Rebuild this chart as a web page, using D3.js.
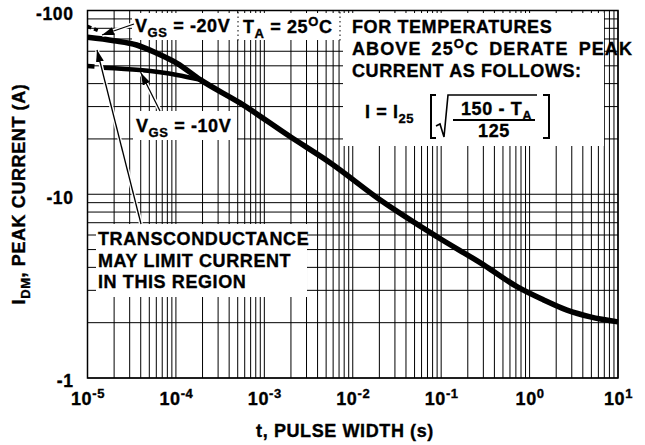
<!DOCTYPE html>
<html>
<head>
<meta charset="utf-8">
<script src="https://cdn.jsdelivr.net/npm/d3@7"></script>
<style>
  body { margin: 0; background: #fff; }
  svg text { font-family: "Liberation Sans", Arial, sans-serif; font-weight: bold; fill: #000;
             stroke: #000; stroke-width: 0.35px; letter-spacing: 0.6px; }
</style>
</head>
<body>
<div id="chart"></div>
<script>
// ---- data ----
const xTickValues = [1e-5, 1e-4, 1e-3, 1e-2, 1e-1, 1e0, 1e1];
const xTickExponents = ["-5", "-4", "-3", "-2", "-1", "0", "1"];
const yTickValues = [1, 10, 100];
const yTickLabels = ["-1", "-10", "-100"];

// VGS = -20V curve (magnitude of peak current, A)
const t20 = [1e-5, 2e-5, 3.6e-5, 6.1e-5, 1.03e-4, 1.9e-4, 5.3e-4, 1.95e-3, 5.6e-3, 2.05e-2, 8.97e-2, 0.302, 0.72, 1.44, 2.65, 4.86, 10];
const i20 = [71.5, 68.5, 64.9, 58.5, 51.6, 41.9, 31.4, 20.6, 14.8, 9.3, 5.87, 4.13, 3.14, 2.66, 2.34, 2.15, 2.02];
// VGS = -10V curve, until it joins the -20V one
const t10 = [1.5e-5, 3.9e-5, 1.03e-4, 1.9e-4];
const i10 = [48.8, 47.4, 44.6, 41.9];
// short dashed stubs at the left edge (transconductance region)
const t20Dash = [1e-5, 1.4e-5];
const i20Dash = [82, 77];
const t10Dash = [1e-5, 1.2e-5];
const i10Dash = [49.9, 49.6];

const W = 645, H = 445;
const margin = { top: 10.5, right: 27, bottom: 67, left: 87.5 };
const width = W - margin.left - margin.right;
const height = H - margin.top - margin.bottom;

const svg = d3.select("#chart").append("svg")
    .attr("width", W)
    .attr("height", H);

const g = svg.append("g")
    .attr("transform", `translate(${margin.left},${margin.top})`);

const x = d3.scaleLog().domain([1e-5, 10]).range([0, width]);
const y = d3.scaleLog().domain([1, 100]).range([height, 0]);

// grid
g.append("g").selectAll("line")
  .data(x.ticks())
  .join("line")
    .attr("x1", d => x(d)).attr("x2", d => x(d))
    .attr("y1", 0).attr("y2", height)
    .attr("stroke", "#000").attr("stroke-width", 1);

g.append("g").selectAll("line")
  .data(y.ticks())
  .join("line")
    .attr("y1", d => y(d)).attr("y2", d => y(d))
    .attr("x1", 0).attr("x2", width)
    .attr("stroke", "#000").attr("stroke-width", 1);

// axes
const xAxis = g.append("g")
    .attr("transform", `translate(0,${height})`)
    .call(d3.axisBottom(x).tickValues(xTickValues).tickSize(0).tickPadding(14).tickFormat(""));
xAxis.select(".domain").remove();
xAxis.selectAll(".tick text").each(function(d, i) {
  const t = d3.select(this)
      .attr("font-size", 18).attr("font-family", null).attr("fill", null);
  t.append("tspan").text("10");
  t.append("tspan").attr("dy", -7).attr("font-size", 13).text(xTickExponents[i]);
});

const yAxis = g.append("g")
    .call(d3.axisLeft(y).tickValues(yTickValues).tickSize(0).tickPadding(14)
          .tickFormat((d, i) => yTickLabels[i]));
yAxis.select(".domain").remove();
yAxis.selectAll(".tick text").attr("font-size", 17.5).attr("font-family", null)
    .attr("fill", null).attr("dy", "0.5em");

// curves
const line = d3.line()
    .x(d => x(d[0]))
    .y(d => y(d[1]))
    .curve(d3.curveMonotoneX);

g.append("path")
  .datum(d3.zip(t20, i20))
  .attr("fill", "none").attr("stroke", "#000").attr("stroke-width", 5.5)
  .attr("d", line);

g.append("path")
  .datum(d3.zip(t10, i10))
  .attr("fill", "none").attr("stroke", "#000").attr("stroke-width", 4.5)
  .attr("d", line);

g.append("path")
  .datum(d3.zip(t20Dash, i20Dash))
  .attr("fill", "none").attr("stroke", "#000").attr("stroke-width", 3.5)
  .attr("stroke-dasharray", "4,3")
  .attr("d", line);

g.append("path")
  .datum(d3.zip(t10Dash, i10Dash))
  .attr("fill", "none").attr("stroke", "#000").attr("stroke-width", 4.5)
  .attr("d", line);

// white annotation boxes
const ann = svg.append("g");
function box(x0, y0, x1, y1) {
  ann.append("rect")
    .attr("x", x0).attr("y", y0)
    .attr("width", x1 - x0).attr("height", y1 - y0)
    .attr("fill", "#fff");
}
box(132, 13, 602, 40);
box(343, 13, 604, 146);
box(133, 111, 237, 140);
box(96, 224, 307, 297);

// dotted separators around the TA box
[238, 340].forEach(px => {
  ann.append("line")
    .attr("x1", px).attr("x2", px).attr("y1", 12).attr("y2", 41)
    .attr("stroke", "#000").attr("stroke-width", 1).attr("stroke-dasharray", "1.5,3");
});

// arrows
const defs = svg.append("defs");
defs.append("marker")
    .attr("id", "head")
    .attr("viewBox", "0 0 12 8")
    .attr("refX", 12).attr("refY", 4)
    .attr("markerWidth", 12).attr("markerHeight", 8)
    .attr("markerUnits", "userSpaceOnUse")
    .attr("orient", "auto")
  .append("path")
    .attr("d", "M0,0 L12,4 L0,8 Z")
    .attr("fill", "#000");

function arrow(x0, y0, x1, y1) {
  ann.append("line")
    .attr("x1", x0).attr("y1", y0).attr("x2", x1).attr("y2", y1)
    .attr("stroke", "#fff").attr("stroke-width", 4);
  ann.append("line")
    .attr("x1", x0).attr("y1", y0).attr("x2", x1).attr("y2", y1)
    .attr("stroke", "#000").attr("stroke-width", 1.3)
    .attr("marker-end", "url(#head)");
}
arrow(134, 24, 102, 35);
arrow(160, 111, 141, 73);
arrow(141, 224, 97, 50);

// texts
function subText(px, py, parts, anchor) {
  const t = ann.append("text").attr("x", px).attr("y", py)
      .attr("font-size", 18).attr("text-anchor", anchor || "start");
  let shift = 0;
  parts.forEach(p => {
    const s = t.append("tspan").text(p.text);
    const want = p.sub ? 5 : p.sup ? -7 : 0;
    if (want !== shift) { s.attr("dy", want - shift); shift = want; }
    if (p.sub || p.sup) s.attr("font-size", 13);
  });
  return t;
}

subText(135, 32, [{ text: "V" }, { text: "GS", sub: true }, { text: " = -20V" }]);
subText(243, 33, [{ text: "T" }, { text: "A", sub: true }, { text: " = 25" }, { text: "O", sup: true }, { text: "C" }]);
subText(136, 132, [{ text: "V" }, { text: "GS", sub: true }, { text: " = -10V" }]);

subText(352, 33, [{ text: "FOR TEMPERATURES" }]);
subText(352, 55, [{ text: "ABOVE 25" }, { text: "O", sup: true }, { text: "C DERATE PEAK" }])
  .style("word-spacing", "4px").style("letter-spacing", "1.1px");
subText(352, 77, [{ text: "CURRENT AS FOLLOWS:" }]);

subText(365, 118, [{ text: "I = I" }, { text: "25", sub: true }]);
// brackets, root and fraction
ann.append("path")
  .attr("d", "M436,95 L431,95 L431,138 L436,138")
  .attr("fill", "none").attr("stroke", "#000").attr("stroke-width", 2);
ann.append("path")
  .attr("d", "M543,95 L549,95 L549,138 L543,138")
  .attr("fill", "none").attr("stroke", "#000").attr("stroke-width", 2);
ann.append("path")
  .attr("d", "M436,126 L440,124 L444,137 L448,95 L537,95")
  .attr("fill", "none").attr("stroke", "#000").attr("stroke-width", 1.6);
ann.append("line")
  .attr("x1", 453).attr("x2", 535).attr("y1", 120).attr("y2", 120)
  .attr("stroke", "#000").attr("stroke-width", 2);
subText(461, 115, [{ text: "150 - T" }, { text: "A", sub: true }]);
subText(494, 137, [{ text: "125" }], "middle");

subText(98, 245, [{ text: "TRANSCONDUCTANCE" }]);
subText(98, 267, [{ text: "MAY LIMIT CURRENT" }]);
subText(98, 288, [{ text: "IN THIS REGION" }]);

// plot frame
g.append("rect")
  .attr("width", width).attr("height", height)
  .attr("fill", "none").attr("stroke", "#000").attr("stroke-width", 1.5);

// axis titles
svg.append("text")
  .attr("x", 345).attr("y", 437)
  .attr("text-anchor", "middle").attr("font-size", 18)
  .text("t, PULSE WIDTH (s)");

const yt = svg.append("text")
  .attr("transform", "translate(25,194) rotate(-90)")
  .attr("text-anchor", "middle").attr("font-size", 18);
yt.append("tspan").text("I");
yt.append("tspan").attr("dy", 5).attr("font-size", 13).text("DM");
yt.append("tspan").attr("dy", -5).text(", PEAK CURRENT (A)");
</script>
</body>
</html>
